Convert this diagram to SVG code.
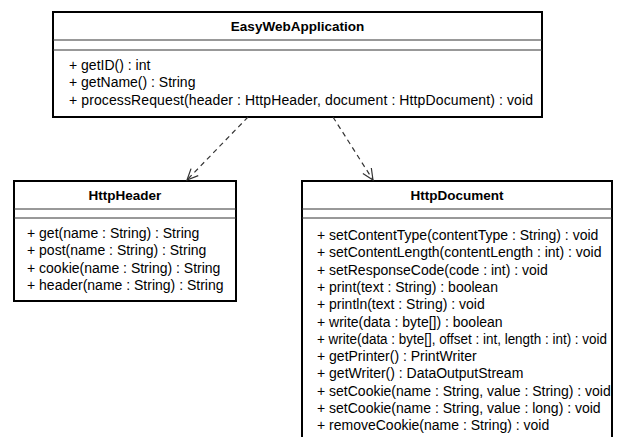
<svg xmlns="http://www.w3.org/2000/svg" width="621" height="437" viewBox="0 0 621 437">
<style>
.box{fill:#fff;stroke:#000;stroke-width:2}
.sep{stroke:#333;stroke-width:1}
.t{font-family:"Liberation Sans",Arial,sans-serif;font-size:14px;fill:#000}
.ti{font-family:"Liberation Sans",Arial,sans-serif;font-size:13.5px;font-weight:bold;fill:#000;text-anchor:middle}
.dep{fill:none;stroke:#333;stroke-width:1.2;stroke-dasharray:5,4}
</style>
<defs>
<marker id="open" markerUnits="userSpaceOnUse" markerWidth="14" markerHeight="14" refX="12" refY="6" orient="auto" viewBox="0 0 14 12">
<path d="M1,1 L12,6 L1,11" fill="none" stroke="#333" stroke-width="1.2"/>
</marker>
</defs>
<rect width="621" height="437" fill="#fff"/>
<g id="EasyWebApplication">
<rect class="box" x="53" y="12" width="489" height="105"/>
<line class="sep" x1="53" y1="40" x2="542" y2="40"/>
<line class="sep" x1="53" y1="50" x2="542" y2="50"/>
<text class="ti" x="297.5" y="31">EasyWebApplication</text>
<text class="t" x="69" y="70">+ getID() : int</text>
<text class="t" x="69" y="87.3">+ getName() : String</text>
<text class="t" x="69" y="104.6" textLength="464" lengthAdjust="spacing">+ processRequest(header : HttpHeader, document : HttpDocument) : void</text>
</g>
<g id="HttpHeader">
<rect class="box" x="14" y="181" width="222" height="120"/>
<line class="sep" x1="14" y1="209" x2="236" y2="209"/>
<line class="sep" x1="14" y1="218" x2="236" y2="218"/>
<text class="ti" x="125" y="200">HttpHeader</text>
<text class="t" x="27" y="238">+ get(name : String) : String</text>
<text class="t" x="27" y="255.3">+ post(name : String) : String</text>
<text class="t" x="27" y="272.6">+ cookie(name : String) : String</text>
<text class="t" x="27" y="289.9">+ header(name : String) : String</text>
</g>
<g id="HttpDocument">
<rect class="box" x="302" y="181" width="310" height="270"/>
<line class="sep" x1="302" y1="209" x2="612" y2="209"/>
<line class="sep" x1="302" y1="218" x2="612" y2="218"/>
<text class="ti" x="457" y="200">HttpDocument</text>
<text class="t" x="317" y="240">+ setContentType(contentType : String) : void</text>
<text class="t" x="317" y="257.3">+ setContentLength(contentLength : int) : void</text>
<text class="t" x="317" y="274.6">+ setResponseCode(code : int) : void</text>
<text class="t" x="317" y="291.9">+ print(text : String) : boolean</text>
<text class="t" x="317" y="309.2">+ println(text : String) : void</text>
<text class="t" x="317" y="326.5">+ write(data : byte[]) : boolean</text>
<text class="t" x="317" y="343.8" textLength="290" lengthAdjust="spacingAndGlyphs">+ write(data : byte[], offset : int, length : int) : void</text>
<text class="t" x="317" y="361.1">+ getPrinter() : PrintWriter</text>
<text class="t" x="317" y="378.4">+ getWriter() : DataOutputStream</text>
<text class="t" x="317" y="395.7">+ setCookie(name : String, value : String) : void</text>
<text class="t" x="317" y="413">+ setCookie(name : String, value : long) : void</text>
<text class="t" x="317" y="430.3">+ removeCookie(name : String) : void</text>
</g>
<g id="connectors">
<line class="dep" x1="248" y1="117" x2="187" y2="180" marker-end="url(#open)"/>
<line class="dep" x1="333" y1="117" x2="373" y2="180" marker-end="url(#open)"/>
</g>
</svg>
